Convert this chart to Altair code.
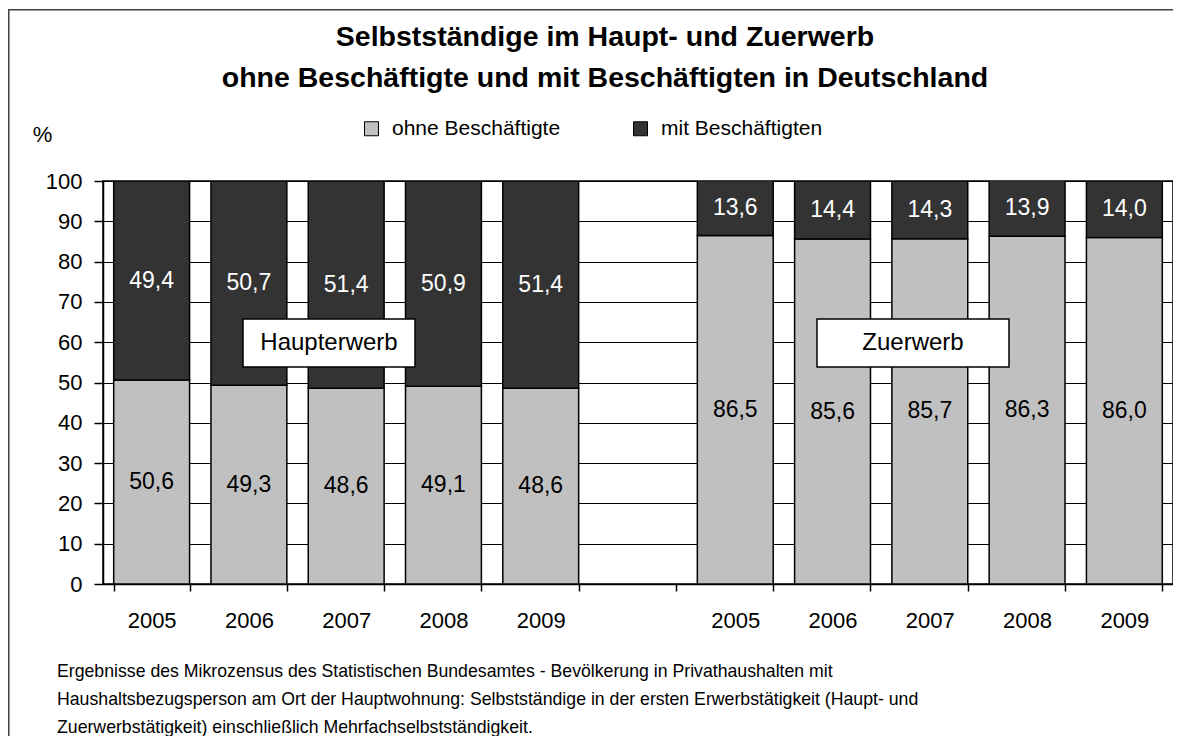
import altair as alt
import pandas as pd

# ---- data -------------------------------------------------------------
years = ["2005", "2006", "2007", "2008", "2009"]
haupt_ohne = [50.6, 49.3, 48.6, 49.1, 48.6]
haupt_mit = [49.4, 50.7, 51.4, 50.9, 51.4]
zu_ohne = [86.5, 85.6, 85.7, 86.3, 86.0]
zu_mit = [13.6, 14.4, 14.3, 13.9, 14.0]
series = ["ohne Beschäftigte", "mit Beschäftigten"]
groups = ["Haupterwerb", "Zuerwerb"]
title_lines = ["Selbstständige im Haupt- und Zuerwerb",
               "ohne Beschäftigte und mit Beschäftigten in Deutschland"]
footnote_lines = [
    "Ergebnisse des Mikrozensus des Statistischen Bundesamtes - Bevölkerung in Privathaushalten mit",
    "Haushaltsbezugsperson am Ort der Hauptwohnung: Selbstständige in der ersten Erwerbstätigkeit (Haupt- und",
    "Zuerwerbstätigkeit) einschließlich Mehrfachselbstständigkeit.",
]

FONT = "Liberation Sans"

rows = []
for g, ohne, mit in [("H", haupt_ohne, haupt_mit), ("Z", zu_ohne, zu_mit)]:
    for yr, o, m in zip(years, ohne, mit):
        rows.append({"slot": f"{g}-{yr}", "serie": series[0], "order": 0,
                     "value": o, "label": f"{o:.1f}".replace(".", ",")})
        rows.append({"slot": f"{g}-{yr}", "serie": series[1], "order": 1,
                     "value": m, "label": f"{m:.1f}".replace(".", ",")})
df = pd.DataFrame(rows)
slots = [f"H-{y}" for y in years] + ["gap"] + [f"Z-{y}" for y in years]

W, H = 1070, 403

x_enc = alt.X(
    "slot:N",
    scale=alt.Scale(domain=slots, paddingInner=0.22, paddingOuter=0.11),
    axis=alt.Axis(
        title=None,
        labelExpr="indexof(datum.label, '-') >= 0 ? split(datum.label, '-')[1] : ''",
        tickBand="extent", grid=False, labelAngle=0,
        labelFont=FONT, labelFontSize=22, labelColor="black",
        labelPadding=19, tickSize=7, tickColor="black", tickWidth=1.5,
        domainColor="black", domainWidth=1.5,
    ),
)

y_axis = alt.Axis(
    values=list(range(0, 101, 10)),
    title="%", titleAngle=0, titleX=-61, titleY=-40, titleAlign="center",
    titleBaseline="alphabetic", titleFont=FONT, titleFontSize=22,
    titleFontWeight="normal", titleColor="black",
    grid=True, gridColor="black", gridWidth=1, gridOpacity=1,
    labelFont=FONT, labelFontSize=22, labelColor="black", labelPadding=12,
    tickSize=9, tickColor="black", tickWidth=1.5,
    domainColor="black", domainWidth=1.5,
)

base = alt.Chart(df).transform_stack(
    stack="value", groupby=["slot"], as_=["y0", "y1"],
    sort=[alt.SortField("order", order="ascending")],
).transform_calculate(mid="(datum.y0 + datum.y1) / 2")

bars = base.mark_bar(stroke="black", strokeWidth=1.5, clip=True).encode(
    x=x_enc,
    y=alt.Y("y0:Q", scale=alt.Scale(domain=[0, 100]), axis=y_axis),
    y2="y1:Q",
    color=alt.Color(
        "serie:N",
        scale=alt.Scale(domain=series, range=["#C0C0C0", "#333333"]),
        sort=series,
        legend=alt.Legend(
            title=None, orient="none", legendX=258, legendY=-63,
            direction="horizontal", symbolType="square", symbolSize=196,
            symbolStrokeColor="black", symbolStrokeWidth=1,
            labelFont=FONT, labelFontSize=21, labelColor="black",
            labelLimit=400, labelOffset=10, columnPadding=69, padding=0,
        ),
    ),
    order=alt.Order("order:Q"),
)

labels = base.mark_text(font=FONT, fontSize=23, baseline="middle").encode(
    x=alt.X("slot:N"),
    y=alt.Y("mid:Q"),
    text="label:N",
    color=alt.condition("datum.order == 1", alt.value("white"), alt.value("black")),
)


def box(name, x0, x1, y0, y1):
    d = pd.DataFrame({"t": [name]})
    r = alt.Chart(d).mark_rect(fill="white", stroke="black", strokeWidth=1.5).encode(
        x=alt.value(x0), x2=alt.value(x1), y=alt.value(y0), y2=alt.value(y1))
    t = alt.Chart(d).mark_text(font=FONT, fontSize=24, baseline="alphabetic",
                               color="black").encode(
        x=alt.value((x0 + x1) / 2), y=alt.value(y1 - 17), text="t:N")
    return r + t


box_h = box(groups[0], 140, 312, 138, 186)
box_z = box(groups[1], 714, 906, 138, 186)

one = pd.DataFrame({"k": [0]})
title = alt.Chart(one).mark_text(
    text=title_lines, font=FONT, fontSize=28.5, fontWeight="bold",
    lineHeight=41, baseline="alphabetic", align="center", color="black",
).encode(x=alt.value(502), y=alt.value(-135))

footnote = alt.Chart(one).mark_text(
    text=footnote_lines, font=FONT, fontSize=17.7, lineHeight=28,
    baseline="alphabetic", align="left", color="black",
).encode(x=alt.value(-46), y=alt.value(496))

# outer frame: only its top and left edges fall inside the picture,
# drawn as thin filled strips (no stroke)
frame_top = alt.Chart(one).mark_rect(fill="#404040", strokeWidth=0).encode(
    x=alt.value(-95), x2=alt.value(W + 40), y=alt.value(-172), y2=alt.value(-170.5))
frame_left = alt.Chart(one).mark_rect(fill="#404040", strokeWidth=0).encode(
    x=alt.value(-95), x2=alt.value(-93.5), y=alt.value(-172), y2=alt.value(H + 200))

chart = alt.layer(frame_top, frame_left, bars, labels, box_h, box_z, title, footnote).properties(
    width=W, height=H,
    autosize=alt.AutoSizeParams(type="none"),
    padding={"left": 95, "top": 173, "right": 0, "bottom": 152},
    background="white",
).configure_view(stroke="black", strokeWidth=1.5)

chart.save("out.html", embed_options={"renderer": "svg", "actions": False})
